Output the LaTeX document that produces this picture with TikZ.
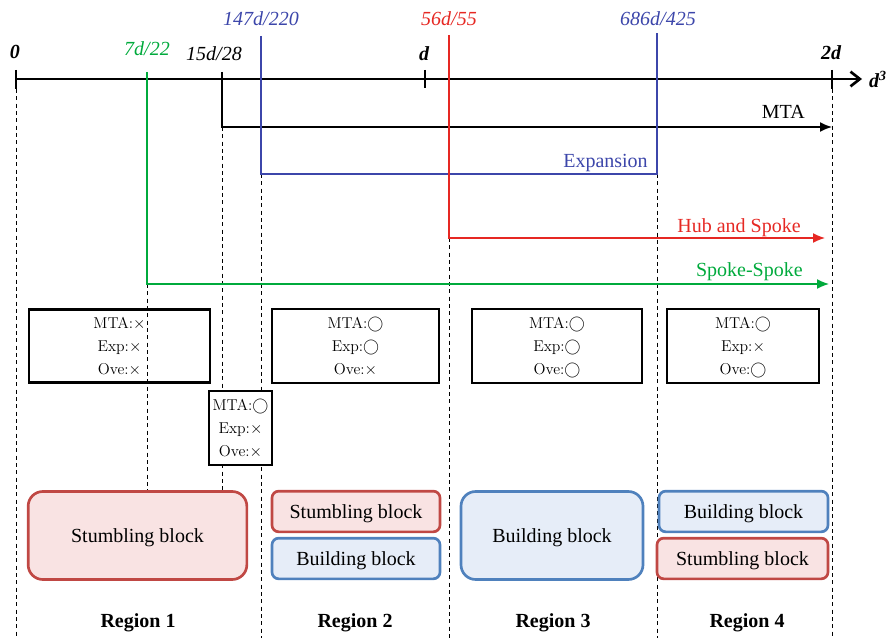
\documentclass[tikz,border=0pt]{standalone}
\usepackage{fontspec}
\newfontfamily\tms{Liberation Serif}
\usetikzlibrary{arrows.meta}
\definecolor{cgreen}{RGB}{0,170,60}
\definecolor{cblue}{RGB}{60,70,170}
\definecolor{cred}{RGB}{230,40,35}
\definecolor{bred}{RGB}{192,72,68}
\definecolor{fred}{RGB}{249,227,227}
\definecolor{bblue}{RGB}{79,129,189}
\definecolor{fblue}{RGB}{230,237,248}
\tikzset{
  lbl/.style={font=\tms\fontsize{15}{18}\selectfont, inner sep=0pt},
  axl/.style={font=\tms\itshape\fontsize{15}{18}\selectfont, inner sep=0pt},
  axb/.style={font=\tms\bfseries\itshape\fontsize{15}{18}\selectfont, inner sep=0pt},
  reg/.style={font=\tms\bfseries\fontsize{15}{18}\selectfont, inner sep=0pt, anchor=base},
  cbox/.style={draw, line width=0.8pt, align=center, inner sep=0pt, text depth=0pt, font=\fontsize{11.8}{17.3}\selectfont},
  vdash/.style={line width=0.6pt, dash pattern=on 3pt off 2.5pt},
  blk/.style={line width=2pt, font=\tms\fontsize{15}{18}\selectfont, inner sep=0pt, text depth=0pt},
  blkr/.style={blk, draw=bred, fill=fred},
  blkb/.style={blk, draw=bblue, fill=fblue},
  tip/.style={-{Latex[length=9pt,width=7.5pt]}},
}
\begin{document}
\begin{tikzpicture}[x=0.75pt,y=-0.75pt]
\useasboundingbox (0,0) rectangle (890,638);
% coordinates
\coordinate (ax0) at (16,79);
\coordinate (axe) at (862,79);
\coordinate (g0) at (147,72);
\coordinate (g1) at (829,284);
\coordinate (k0) at (222,72);
\coordinate (k1) at (832,127);
\coordinate (b0) at (261,36);
\coordinate (b1) at (261,174);
\coordinate (b2) at (657,174);
\coordinate (b3) at (657,33);
\coordinate (r0) at (449,35);
\coordinate (r1) at (825,238);
% dashed guides
\draw[vdash] (16,89) -- (16,638);
\draw[vdash] (832,89) -- (832,638);
\draw[vdash] (147,284) -- (147,490);
\draw[vdash] (222,127) -- (222,490);
\draw[vdash] (261,174) -- (261,638);
\draw[vdash] (449,238) -- (449,638);
\draw[vdash] (657,174) -- (657,638);
% axis
\draw[line width=2.2pt, -{Straight Barb[length=7pt,width=11pt,line width=2pt]}] (ax0) -- (axe);
\draw[line width=2.2pt] (16,70) -- (16,89);
\draw[line width=2.2pt] (425,70) -- (425,88);
\draw[line width=2.2pt] (832,70) -- (832,89);
% threshold lines
\draw[cgreen, line width=1.1pt, tip] (g0) |- (g1);
\draw[black, line width=1.2pt, tip] (k0) |- (k1);
\draw[cblue, line width=1pt] (b0) -- (b1) -- (b2) -- (b3);
\draw[cred, line width=1.1pt, tip] (r0) |- (r1);
% axis labels
\node[axb] (l0) at (15,52) {0};
\node[axl, text=cgreen] (l1) at (147,49) {7d/22};
\node[axl] (l2) at (214,54) {15d/28};
\node[axl, text=cblue] (l3) at (261,19) {147d/220};
\node[axl, text=cred] (l4) at (449,19) {56d/55};
\node[axl, text=cblue] (l5) at (658,19) {686d/425};
\node[axb] (l6) at (424,54) {d};
\node[axb] (l7) at (831,53) {2d};
\node[axb] (l8) at (878,79) {d\textsuperscript{3}};
% line labels
\node[lbl, anchor=base east] (mta) at (805,119) {MTA};
\node[lbl, anchor=base east, text=cblue] (exp) at (648,168) {Expansion};
\node[lbl, anchor=base east, text=cred] (hub) at (801,233) {Hub and Spoke};
\node[lbl, anchor=base east, text=cgreen] (ss) at (803,277) {Spoke-Spoke};
% condition boxes
\node[cbox, line width=1.8pt, minimum width=135.75pt, minimum height=54.75pt] (c1) at (119.5,346) {MTA:$\times$\\Exp:$\times$\\Ove:$\times$};
\node[cbox, fill=white, minimum width=47.25pt, minimum height=55.5pt] (c12) at (240.5,428) {MTA:$\bigcirc$\\Exp:$\times$\\Ove:$\times$};
\node[cbox, minimum width=125.25pt, minimum height=55.5pt] (c2) at (355.5,346) {MTA:$\bigcirc$\\Exp:$\bigcirc$\\Ove:$\times$};
\node[cbox, minimum width=127.5pt, minimum height=55.5pt] (c3) at (557,346) {MTA:$\bigcirc$\\Exp:$\bigcirc$\\Ove:$\bigcirc$};
\node[cbox, minimum width=114pt, minimum height=55.5pt] (c4) at (743,346) {MTA:$\bigcirc$\\Exp:$\times$\\Ove:$\bigcirc$};
% blocks
\node[blkr, rounded corners=11pt, minimum width=164pt, minimum height=66pt] (s1) at (137.5,535.5) {Stumbling block};
\node[blkr, rounded corners=5pt, minimum width=126pt, minimum height=30.5pt] (s2) at (356,511.5) {Stumbling block};
\node[blkb, rounded corners=5pt, minimum width=126pt, minimum height=30.5pt] (u2) at (356,558.5) {Building block};
\node[blkb, rounded corners=11pt, minimum width=136.5pt, minimum height=66pt] (u3) at (552,535.5) {Building block};
\node[blkb, rounded corners=5pt, minimum width=126.75pt, minimum height=30.5pt] (u4) at (743.5,511.5) {Building block};
\node[blkr, rounded corners=5pt, minimum width=128.25pt, minimum height=30.5pt] (s4) at (742.5,558.5) {Stumbling block};
% region labels
\node[reg] (rg1) at (138,627) {Region 1};
\node[reg] (rg2) at (355,627) {Region 2};
\node[reg] (rg3) at (553,627) {Region 3};
\node[reg] (rg4) at (747,627) {Region 4};
\end{tikzpicture}
\end{document}
